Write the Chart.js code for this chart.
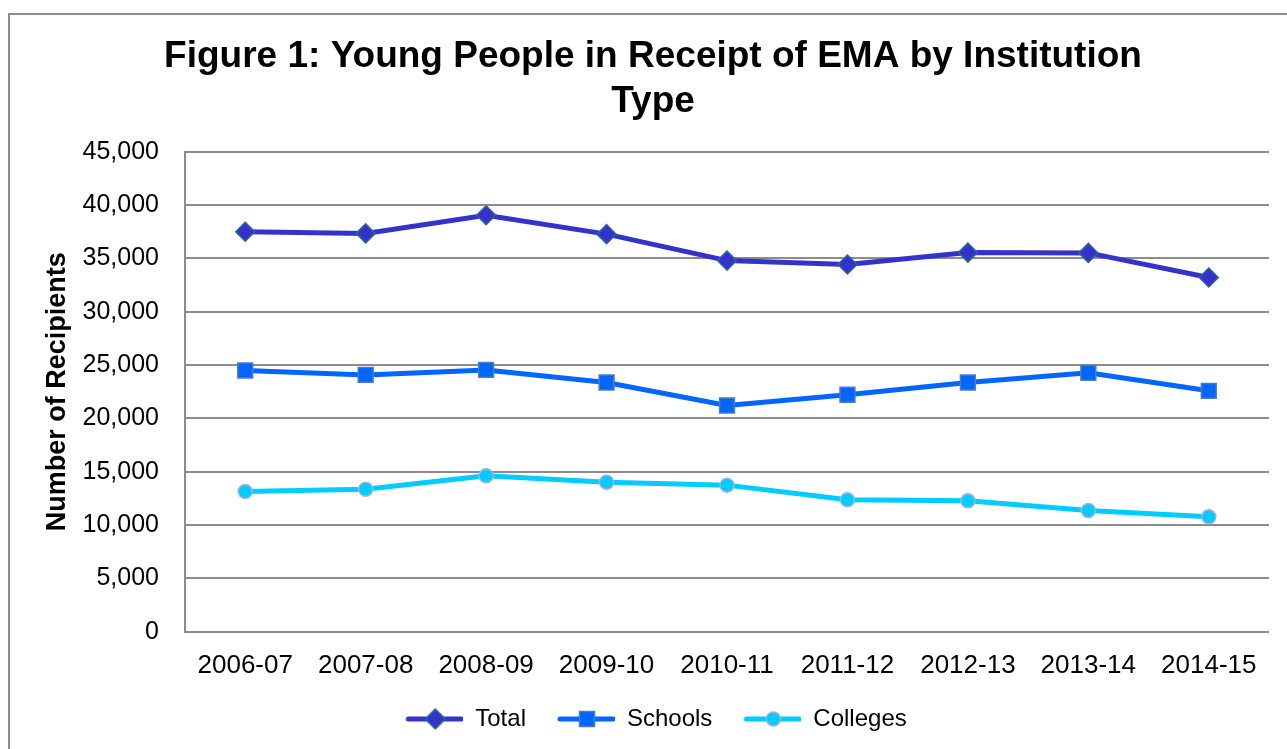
<!DOCTYPE html>
<html>
<head>
<meta charset="utf-8">
<script src="https://cdn.jsdelivr.net/npm/chart.js@4.4.1/dist/chart.umd.min.js"></script>
<style>
  body { margin: 0; background: #fff; overflow: hidden; }
  #frame { position: absolute; left: 8px; top: 13px; width: 1300px; height: 800px; border: 2px solid #8c8c8c; box-sizing: border-box; }
  #c { position: absolute; left: 0; top: 0; }
</style>
</head>
<body>
<div id="frame"></div>
<canvas id="c" width="1287" height="749"></canvas>
<script>
// donnees
const years = ['2006-07', '2007-08', '2008-09', '2009-10', '2010-11', '2011-12', '2012-13', '2013-14', '2014-15'];
const total = [37500, 37350, 39050, 37280, 34800, 34430, 35550, 35520, 33220];
const schools = [24500, 24080, 24550, 23370, 21220, 22220, 23370, 24280, 22590];
const colleges = [13150, 13370, 14620, 14030, 13750, 12370, 12280, 11370, 10780];

const FONT = "'Liberation Sans', Arial, sans-serif";

// petit dessin ligne + marqueur pour la legende
function legendIcon(color, fill, border, style, r) {
  let cv = document.createElement('canvas');
  cv.width = 64;
  cv.height = 24;
  let ctx = cv.getContext('2d');
  ctx.strokeStyle = color;
  ctx.lineWidth = 5;
  ctx.lineCap = 'round';
  ctx.beginPath();
  ctx.moveTo(9, 12);
  ctx.lineTo(62, 12);
  ctx.stroke();
  ctx.fillStyle = fill;
  ctx.strokeStyle = border;
  ctx.lineWidth = 1.5;
  ctx.beginPath();
  let x = 36, y = 12;
  if (style === 'diamond') {
    ctx.moveTo(x - r, y); ctx.lineTo(x, y - r); ctx.lineTo(x + r, y); ctx.lineTo(x, y + r); ctx.closePath();
  } else if (style === 'square') {
    ctx.rect(x - r, y - r, 2 * r, 2 * r);
  } else {
    ctx.arc(x, y, r, 0, Math.PI * 2);
  }
  ctx.fill();
  ctx.stroke();
  return cv;
}

const icons = [
  legendIcon('#3333cc', '#3333cc', '#2f6496', 'diamond', 10),
  legendIcon('#0066ff', '#0066ff', '#4a7ebb', 'square', 7.5),
  legendIcon('#00ccff', '#00ccff', '#a3b3d4', 'circle', 7)
];

let ctx = document.getElementById('c').getContext('2d');

let config = {
  type: 'line',
  data: {
    labels: years,
    datasets: [{
      label: 'Total',
      data: total,
      borderColor: '#3333cc',
      borderWidth: 5,
      pointStyle: 'rectRot',
      pointRadius: 9.5,
      pointBackgroundColor: '#3333cc',
      pointBorderColor: '#2f6496',
      pointBorderWidth: 1.5
    }, {
      label: 'Schools',
      data: schools,
      borderColor: '#0066ff',
      borderWidth: 5,
      pointStyle: 'rect',
      pointRadius: 10.5,
      pointBackgroundColor: '#0066ff',
      pointBorderColor: '#4a7ebb',
      pointBorderWidth: 1.5
    }, {
      label: 'Colleges',
      data: colleges,
      borderColor: '#00ccff',
      borderWidth: 5,
      pointStyle: 'circle',
      pointRadius: 7,
      pointBackgroundColor: '#00ccff',
      pointBorderColor: '#a3b3d4',
      pointBorderWidth: 1.5
    }]
  },
  options: {
    responsive: false,
    animation: false,
    layout: {
      padding: { top: 15, left: 37, right: 18, bottom: 8 }
    },
    plugins: {
      title: {
        display: true,
        text: ['Figure 1: Young People in Receipt of EMA by Institution', 'Type'],
        color: '#000',
        font: { family: FONT, size: 37, weight: 'bold' },
        padding: { top: 20, bottom: 28 }
      },
      legend: {
        position: 'bottom',
        labels: {
          color: '#000',
          font: { family: FONT, size: 24 },
          usePointStyle: true,
          pointStyleWidth: 64,
          padding: 25,
          generateLabels: function (chart) {
            return chart.data.datasets.map(function (ds, i) {
              return {
                text: ds.label,
                pointStyle: icons[i],
                fillStyle: ds.borderColor,
                strokeStyle: ds.borderColor,
                lineWidth: 0,
                fontColor: '#000',
                datasetIndex: i
              };
            });
          }
        }
      },
      tooltip: { enabled: false }
    },
    scales: {
      x: {
        offset: true,
        grid: { display: false },
        border: { display: false },
        ticks: {
          color: '#000',
          font: { family: FONT, size: 26 },
          padding: 10,
          maxRotation: 0,
          autoSkip: false
        },
        afterFit: function (scale) { scale.height -= 9; }
      },
      y: {
        min: 0,
        max: 45000,
        grid: { color: '#8c8c8c', lineWidth: 2, drawTicks: false },
        border: { color: '#8c8c8c', width: 2 },
        ticks: {
          stepSize: 5000,
          color: '#000',
          font: { family: FONT, size: 25 },
          padding: 26,
          callback: function (v) { return v.toLocaleString('en-US'); }
        },
        title: {
          display: true,
          text: 'Number of Recipients',
          color: '#000',
          font: { family: FONT, size: 27, weight: 'bold' },
          padding: { top: 4, bottom: 10 }
        },
        afterFit: function (scale) { scale.width = 148; }
      }
    }
  }
};

let chart = new Chart(ctx, config);
</script>
</body>
</html>
